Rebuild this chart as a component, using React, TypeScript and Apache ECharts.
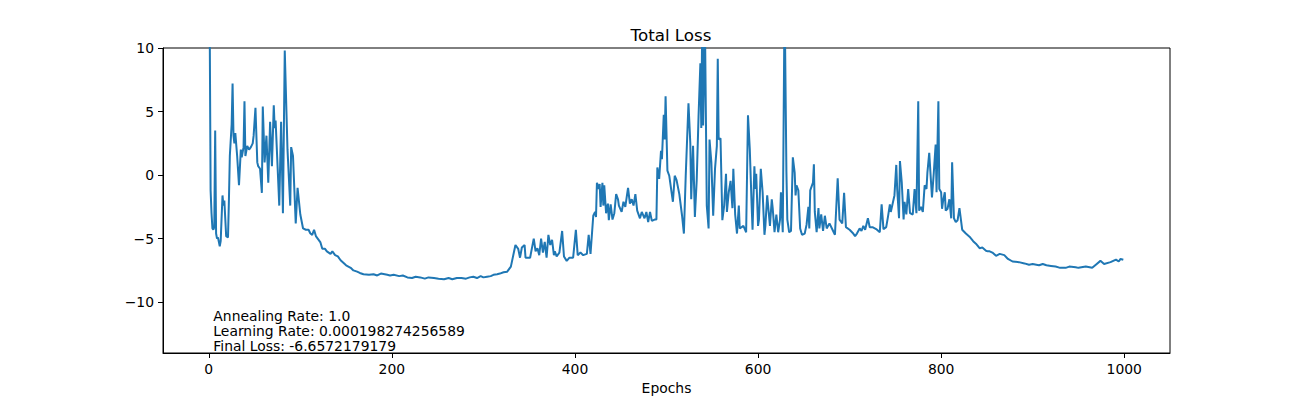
import { useEffect, useRef } from "react";
import * as echarts from "echarts";

// [epoch, total loss], phase by phase
const warmup: [number, number][] = [
  [0, 30], [1, 12], [2, -1.2], [3, -3.0], [4, -4.2], [5, -4.3], [6, -4.1], [7, 3.5], [8, -4.6], [9, -5.0],
  [10, -4.9], [12, -5.6], [13, -5.2], [15, -1.6], [16, -2.4], [17, -2.0], [19, -4.8], [21, -4.9], [22, -2.0],
  [23, 1.5], [25, 4.0], [26, 7.2], [27, 3.1], [28, 2.5], [29, 3.3], [31, 1.5], [33, -0.8], [35, 2.0], [36, 1.4],
  [38, 2.2], [39, 5.8], [40, 1.5], [42, 2.3], [44, 2.0], [46, 2.2], [48, 2.5], [49, 3.1], [51, 5.3], [53, 1.0],
  [54, 0.7], [56, 0.5], [58, -1.4], [59, 5.4], [61, 1.0], [63, 3.1], [65, -0.6], [67, 4.2], [69, 0.7], [71, 5.5],
  [72, 3.7], [73, 4.3], [77, -2.4], [79, 4.2], [81, -3.0], [83, 9.8], [86, 2.0], [89, -2.4], [90, 2.2], [92, 1.5],
  [95, -3.8], [97, -1.0], [100, -3.1], [103, -4.2], [106, -4.3], [109, -4.3], [111, -4.6], [113, -4.7],
  [115, -4.3], [117, -4.8], [119, -5.0], [122, -5.3], [124, -5.8], [127, -5.8], [129, -6.0], [133, -6.2],
];

const plateau: [number, number][] = [
  [135, -6.0], [138, -6.3], [141, -6.4], [144, -6.7], [147, -6.9], [150, -7.1], [155, -7.3], [158, -7.5],
  [162, -7.6], [165, -7.7], [169, -7.8], [175, -7.85], [180, -7.8], [184, -7.9], [188, -7.75], [195, -7.85],
  [198, -7.9], [202, -7.85], [208, -7.95], [212, -7.9], [217, -8.05], [222, -8.1], [226, -8.0], [231, -8.05],
  [236, -8.15], [240, -8.05], [246, -8.1], [251, -8.15], [257, -8.2], [262, -8.1], [266, -8.2], [271, -8.1],
  [276, -8.1], [281, -8.15], [285, -8.05], [289, -8.0], [293, -8.1], [297, -7.95], [300, -8.05], [304, -8.0],
  [308, -7.95], [311, -7.85], [315, -7.8], [318, -7.75], [322, -7.65], [326, -7.6], [330, -7.2],
];

const rise: [number, number][] = [
  [335, -5.5], [338, -5.8], [340, -6.5], [342, -5.7], [345, -5.5], [346, -6.5], [351, -6.5], [355, -5.0],
  [357, -6.0], [359, -5.75], [361, -6.3], [363, -5.0], [365, -6.1], [367, -5.25], [369, -6.5], [371, -4.7],
  [373, -5.5], [375, -5.1], [377, -6.3], [378, -6.0], [380, -6.4], [383, -6.1], [386, -4.4], [388, -6.4],
  [391, -6.75], [394, -6.5], [398, -6.5], [401, -4.3], [403, -6.3], [406, -6.1], [409, -6.3], [413, -6.2],
  [415, -4.7], [417, -6.2], [420, -3.2], [422, -2.9], [423, -3.3], [424, -0.6], [426, -1.1], [427, -0.7],
  [428, -2.5], [430, -0.6], [431, -2.4], [432, -0.8], [434, -3.0], [436, -2.25], [437, -3.55], [439, -2.3],
  [441, -3.5], [443, -3.0], [445, -1.5], [447, -1.9], [448, -2.4], [451, -2.9], [453, -2.1], [455, -2.5],
  [457, -1.5], [458, -1.0], [460, -2.25], [462, -1.9], [464, -2.4], [466, -1.5], [468, -2.8], [471, -3.4],
  [473, -2.9], [476, -3.4], [478, -2.9], [480, -3.7], [482, -2.9], [484, -3.6], [487, -3.5], [489, -3.5],
];

const unstable: [number, number][] = [
  [490, 0.6], [492, -0.3], [494, 1.9], [495, 1.25], [497, 4.75], [498, 2.8], [499, 6.2], [501, 0.35],
  [503, -0.05], [507, -2.1], [509, -0.05], [511, -0.4], [514, -1.5], [517, -3.2], [519, -4.6], [521, -0.05],
  [524, 5.65], [526, 2.5], [527, -1.9], [529, 2.3], [531, -3.3], [533, -0.4], [535, 4.6], [537, 8.8],
  [538, 3.7], [539, 12], [540, 3.9], [542, 12], [544, -2.4], [546, -4.2], [547, 2.8], [549, 1.0], [551, -3.2],
  [553, 0.5], [555, 2.3], [556, 9.15], [557, 2.8], [559, 2.9], [561, -3.55], [563, -2.4], [565, 0.1],
  [566, -2.9], [568, -1.35], [570, -0.45], [572, -2.6], [573, 0.5], [575, -3.1], [577, -4.6], [579, -2.4],
  [580, -4.2], [584, -4.0], [587, -4.5], [589, 4.7], [591, 2.0], [593, -2.4], [594, -4.3], [596, 0.7],
  [597, -1.1], [598, 0.1], [600, -4.0], [601, -3.5], [603, 0.5], [605, -1.35], [607, -4.7], [608, -4.0],
  [610, -1.6], [611, -2.4], [613, -4.0], [615, -1.9], [616, -2.6], [618, -4.5], [620, -3.1], [622, -4.5],
  [624, -3.5], [625, -1.35], [627, -4.5], [629, 14], [631, 0.2], [632, -3.5], [634, -4.5], [636, -4.4],
  [638, 1.4], [640, 0.2], [641, -1.6], [642, -0.8], [644, -1.2], [646, -4.2], [648, -4.7], [651, -4.6],
  [653, -3.9], [655, -2.5], [656, -4.2], [657, -1.2], [660, -0.6], [661, 0.85], [662, -2.9], [664, -4.5],
  [666, -2.6], [667, -4.2], [669, -3.1], [671, -4.4], [673, -3.2], [675, -4.2], [678, -3.8], [682, -4.4],
  [684, -4.7], [687, -0.25], [689, -3.5], [692, -3.8], [694, -1.4], [696, -4.1], [700, -4.3], [704, -4.6],
  [706, -4.8], [708, -4.6], [711, -4.2], [713, -4.4], [715, -4.0], [717, -4.3], [720, -3.4], [722, -4.1],
  [725, -4.1], [729, -4.25], [733, -4.5], [735, -2.3], [737, -4.25], [740, -4.1], [742, -3.25], [744, -2.3],
  [745, -2.9], [747, -2.25], [749, -1.6], [751, 0.8], [752, -1.1], [754, -3.4], [755, 1.1], [757, -0.6],
  [759, -3.5], [760, -2.1], [762, -3.1], [764, -1.1], [766, -3.0], [769, -3.1], [771, -1.1], [773, -3.0],
  [775, 5.8], [776, -2.8], [778, -2.5], [780, -2.9], [782, -0.8], [784, -1.1], [785, 0.2], [787, 1.75],
  [789, -0.6], [790, -1.75], [792, 0.2], [794, 2.4], [795, -1.35], [796, 2.3], [797, 5.8], [798, -1.1],
  [800, -1.35], [801, -2.65], [802, -2.1], [804, -1.35], [805, -2.8], [807, -2.65], [809, -1.9], [811, -3.4],
  [812, 1.0], [814, -3.4], [816, -3.7], [818, -3.55], [820, -2.6],
];

const decay: [number, number][] = [
  [823, -4.3], [827, -4.6], [831, -4.85], [835, -5.2], [838, -5.4], [842, -5.75], [845, -5.7], [849, -5.95],
  [851, -6.0], [853, -6.0], [856, -6.1], [860, -6.35], [864, -6.2], [869, -6.3], [873, -6.6], [878, -6.8],
  [885, -6.85], [891, -6.95], [896, -7.05], [900, -7.0], [904, -7.05], [907, -7.1], [911, -7.0], [915, -7.1],
  [920, -7.15], [925, -7.2], [930, -7.3], [936, -7.3], [940, -7.2], [947, -7.25], [950, -7.3], [958, -7.2],
  [965, -7.3], [969, -7.05], [974, -6.75], [978, -7.0], [985, -6.85], [991, -6.65], [994, -6.8], [996, -6.6],
  [999, -6.66],
];

const xTicks = [0, 200, 400, 600, 800, 1000];
const yTicks = [-10, -5, 0, 5, 10];
const notes = [
  "Annealing Rate: 1.0",
  "Learning Rate: 0.000198274256589",
  "Final Loss: -6.6572179179",
];

const FONT = "DejaVu Sans";
const minus = (v: number) => String(v).replace("-", "\u2212");

export default function App() {
  const ref = useRef<HTMLDivElement>(null);

  useEffect(() => {
    if (!ref.current) return;
    const chart = echarts.init(ref.current, undefined, { renderer: "svg" });
    const data = [...warmup, ...plateau, ...rise, ...unstable, ...decay];
    const axisCommon = {
      axisLine: { show: true, onZero: false, lineStyle: { color: "#000", width: 1 } },
      axisTick: { show: true, length: 5, lineStyle: { color: "#000" } },
      splitLine: { show: false },
    };
    chart.setOption({
      animation: false,
      title: {
        text: "Total Loss",
        left: 666,
        top: 21,
        textAlign: "center",
        textStyle: { fontFamily: FONT, fontSize: 16.7, fontWeight: "normal", color: "#000" },
      },
      grid: { left: 163, right: 130, top: 48, bottom: 44, show: true, borderColor: "#000", borderWidth: 1 },
      xAxis: {
        type: "value",
        min: -50,
        max: 1050,
        name: "Epochs",
        nameLocation: "middle",
        nameGap: 28,
        nameTextStyle: { fontFamily: FONT, fontSize: 13.9, color: "#000" },
        ...axisCommon,
        axisTick: { ...axisCommon.axisTick, customValues: xTicks },
        axisLabel: {
          customValues: xTicks,
          fontFamily: FONT,
          fontSize: 13.9,
          color: "#000",
          margin: 9,
          formatter: (v: number) => String(v),
        },
      },
      yAxis: {
        type: "value",
        min: -14,
        max: 10,
        ...axisCommon,
        axisTick: { ...axisCommon.axisTick, customValues: yTicks },
        axisLabel: {
          customValues: yTicks,
          fontFamily: FONT,
          fontSize: 13.9,
          color: "#000",
          margin: 9,
          formatter: (v: number) => minus(v),
        },
      },
      series: [
        {
          type: "line",
          data,
          showSymbol: false,
          clip: true,
          lineStyle: { color: "#1f77b4", width: 2 },
          itemStyle: { color: "#1f77b4" },
        },
      ],
    });
    const [tx, ty] = chart.convertToPixel({ gridIndex: 0 }, [5, -14]) as number[];
    chart.setOption({
      graphic: [
        {
          type: "text",
          x: tx,
          y: ty + 1,
          style: {
            text: notes.join("\n"),
            font: `13.9px "${FONT}"`,
            lineHeight: 15.3,
            fill: "#000",
            verticalAlign: "bottom",
          },
        },
      ],
    });
    return () => chart.dispose();
  }, []);

  return <div ref={ref} style={{ position: "absolute", left: 0, top: 0, width: 1300, height: 400 }} />;
}
